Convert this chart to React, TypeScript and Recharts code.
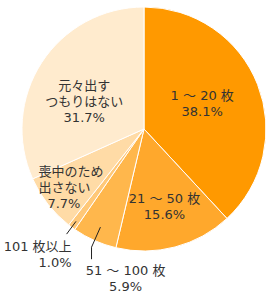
import React from 'react';
import { PieChart, Pie, Cell } from 'recharts';

const categories = ['1 ～ 20 枚', '21 ～ 50 枚', '51 ～ 100 枚', '101 枚以上', '喪中のため出さない', '元々出すつもりはない'];
const labelLines = [['1 ～ 20 枚'], ['21 ～ 50 枚'], ['51 ～ 100 枚'], ['101 枚以上'], ['喪中のため', '出さない'], ['元々出す', 'つもりはない']];
const values = [38.1, 15.6, 5.9, 1.0, 7.7, 31.7];
const percentLabels = ['38.1%', '15.6%', '5.9%', '1.0%', '7.7%', '31.7%'];
const colors = ['#FF9900', '#FFA82C', '#FFB74C', '#FFC878', '#FFDBA6', '#FFEBCE'];

const data = categories.map((name, i) => ({ name, value: values[i] }));

type Layout = {
  kind: 'in' | 'out';
  r?: number; da?: number; anchor: 'start' | 'middle' | 'end'; shift?: number; lastDx?: number;
  r0?: number; r1?: number; drop?: number; tx?: number; ty?: number;
};

const layouts: Layout[] = [
  { kind: 'in', r: 0.52, da: 2, anchor: 'middle' },
  { kind: 'in', r: 0.66, da: 0, anchor: 'middle' },
  { kind: 'out', r0: 0.88, r1: 1.06, drop: 12, tx: 34, ty: 11, anchor: 'middle' },
  { kind: 'out', r0: 0.94, r1: 1.07, drop: 0, tx: 5, ty: 12, anchor: 'end' },
  { kind: 'in', r: 0.765, da: 1, anchor: 'start', shift: -33, lastDx: 9 },
  { kind: 'in', r: 0.54, da: 8, anchor: 'middle' },
];

const RADIAN = Math.PI / 180;
const LINE_H = 16;
const FONT = '"DejaVu Sans", "Noto Sans CJK JP", sans-serif';

const pt = (cx: number, cy: number, r: number, a: number) => ({
  x: cx + r * Math.cos(-a * RADIAN),
  y: cy + r * Math.sin(-a * RADIAN),
});

const renderLabel = (props: any) => {
  const { cx, cy, midAngle, outerRadius, index } = props;
  const L = layouts[index];
  const lines = [...labelLines[index], percentLabels[index]];
  if (L.kind === 'in') {
    const c = pt(cx, cy, outerRadius * (L.r as number), midAngle + (L.da || 0));
    const x = c.x + (L.shift || 0);
    const n = lines.length;
    return (
      <g key={`lbl-${index}`}>
        {lines.map((t, i) => (
          <text
            key={i}
            x={x + (i === n - 1 ? L.lastDx || 0 : 0)}
            y={c.y + (i - (n - 1) / 2) * LINE_H}
            textAnchor={L.anchor}
            dominantBaseline="central"
            fill="#333"
            fontSize={13}
            fontFamily={FONT}
          >
            {t}
          </text>
        ))}
      </g>
    );
  }
  const p0 = pt(cx, cy, outerRadius * (L.r0 as number), midAngle);
  const p1 = pt(cx, cy, outerRadius * (L.r1 as number), midAngle);
  const p2 = { x: p1.x, y: p1.y + (L.drop || 0) };
  return (
    <g key={`lbl-${index}`}>
      <polyline
        points={`${p0.x},${p0.y} ${p1.x},${p1.y} ${p2.x},${p2.y}`}
        fill="none"
        stroke="#222"
        strokeWidth={1}
      />
      {lines.map((t, i) => (
        <text
          key={i}
          x={p2.x + (L.tx || 0)}
          y={p2.y + (L.ty || 0) + i * LINE_H}
          textAnchor={L.anchor}
          dominantBaseline="central"
          fill="#333"
          fontSize={13}
          fontFamily={FONT}
        >
          {t}
        </text>
      ))}
    </g>
  );
};

export default function App() {
  return (
    <div style={{ position: 'absolute', left: 0, top: 0, width: 275, height: 299, background: '#fff' }}>
      <PieChart width={275} height={299} margin={{ top: 0, right: 0, bottom: 0, left: 0 }}>
        <Pie
          data={data}
          dataKey="value"
          nameKey="name"
          cx={144}
          cy={129}
          outerRadius={122}
          startAngle={90}
          endAngle={-270}
          stroke="#fff"
          strokeWidth={1}
          label={renderLabel}
          labelLine={false}
          isAnimationActive={false}
        >
          {data.map((_, i) => (
            <Cell key={i} fill={colors[i]} />
          ))}
        </Pie>
      </PieChart>
    </div>
  );
}
